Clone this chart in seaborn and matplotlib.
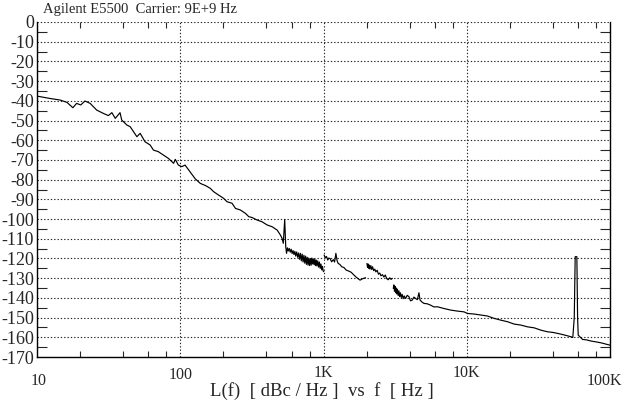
#!/usr/bin/env python3
"""
Phase noise plot (Agilent E5500, 9 GHz carrier)
Generates out.png
"""

import pandas as pd
import matplotlib as mpl
import matplotlib.pyplot as plt
import matplotlib.ticker as mticker
import matplotlib.transforms as mtransforms
import seaborn as sns

# ---- data: offset frequency [Hz] and L(f) [dBc/Hz] ----
# segment 1: 10 Hz .. 1 kHz
SEG1_FREQ = [10, 12.3, 14.5, 16.2, 17.8, 18.9, 20.2, 21.6, 23.5, 26.1, 29.1, 31.5,
             33.3, 35.2, 38, 39, 42.4, 44.7, 49.8, 52.5, 56.8, 61.6, 65, 70.3, 76.2,
             82.6, 89.9, 92.3, 97, 102.7, 108, 117, 127, 138, 150, 162, 171, 185,
             201, 212, 230, 243, 263, 285, 301, 317, 344, 373, 404, 438, 475, 500,
             514, 524, 536, 545, 552, 560, 568, 577, 586, 595, 604, 613, 622, 631,
             640, 650, 660, 670, 680, 690, 700, 710, 720, 730, 740, 750, 760, 770,
             780, 790, 800, 810, 820, 830, 840, 850, 860, 870, 880, 890, 900, 912,
             924, 936, 948, 960, 972, 984, 995, 1005]
SEG1_LEVEL = [-37.6, -38.8, -39.6, -40.8, -43.5, -41.3, -42.1, -40.1, -41.3, -44.7,
              -46.4, -47.5, -46.0, -48.9, -46.0, -49.7, -52.3, -53.1, -58.2, -56.5,
              -60.8, -62.4, -65.0, -65.8, -67.5, -69.2, -71.7, -69.7, -72.6, -73.4,
              -72.6, -76.0, -79.5, -81.9, -83.0, -84.4, -86.1, -87.8, -89.5, -91.2,
              -92.0, -94.6, -95.4, -97.1, -98.8, -99.2, -100.5, -101.4, -103.0,
              -103.9, -105.6, -108.1, -109.8, -112.3, -100.2, -114.0, -117.4,
              -114.6, -116.2, -114.9, -116.8, -115.3, -117.5, -116.0, -118.0,
              -116.4, -118.8, -116.7, -119.4, -117.2, -120.4, -117.4, -121.2,
              -117.8, -121.8, -118.4, -122.4, -118.8, -123.0, -119.4, -123.4,
              -119.8, -123.6, -120.0, -123.4, -119.8, -122.8, -120.2, -123.2,
              -120.4, -123.6, -120.8, -123.8, -121.2, -124.4, -121.8, -125.0,
              -122.8, -125.8, -124.0, -126.4, -126.7]

# segment 2: 1 kHz .. 2 kHz
SEG2_FREQ = [1010, 1030, 1050, 1070, 1090, 1110, 1140, 1170, 1195, 1220, 1245,
             1265, 1300, 1340, 1390, 1440, 1500, 1560, 1620, 1680, 1740, 1800,
             1860, 1920, 1968]
SEG2_LEVEL = [-118.3, -119.6, -119.0, -120.8, -119.8, -120.0, -121.7, -120.6,
              -121.8, -117.4, -121.2, -122.5, -123.0, -124.2, -124.6, -125.9,
              -126.4, -127.0, -128.2, -129.3, -130.2, -131.0, -130.4, -130.0,
              -129.8]

# segment 3: 2 kHz .. 3 kHz
SEG3_FREQ = [2010, 2030, 2050, 2070, 2090, 2110, 2140, 2170, 2200, 2240, 2280,
             2320, 2370, 2420, 2470, 2520, 2580, 2640, 2700, 2760, 2830, 2900,
             2960, 3023]
SEG3_LEVEL = [-122.5, -124.6, -122.8, -125.0, -123.4, -125.4, -123.6, -125.6,
              -124.2, -126.2, -125.4, -126.8, -126.0, -128.0, -127.4, -128.8,
              -128.2, -129.4, -128.4, -130.2, -130.8, -129.8, -130.6, -130.1]

# segment 4: 3 kHz .. 100 kHz
SEG4_FREQ = [3070, 3100, 3130, 3160, 3190, 3220, 3250, 3280, 3320, 3360, 3400,
             3440, 3490, 3540, 3600, 3660, 3742, 3840, 3949, 4050, 4166, 4280,
             4395, 4520, 4637, 4720, 4850, 5022, 5300, 5596, 5900, 6234, 6940,
             7727, 8605, 9580, 10110, 11250, 12530, 13950, 15530, 17290, 19260,
             21440, 23870, 26570, 29580, 33000, 36640, 40500, 45400, 49000,
             53300, 55000, 56300, 57150, 58700, 59400, 60000, 64400, 68500,
             73600, 79500, 86500, 93000, 100000]
SEG4_LEVEL = [-135.2, -133.4, -136.6, -134.2, -137.4, -135.0, -138.0, -135.6,
              -138.8, -136.4, -139.4, -137.4, -139.8, -138.2, -140.4, -139.0,
              -140.3, -138.7, -139.4, -141.5, -141.1, -139.6, -140.3, -140.9,
              -137.4, -141.1, -142.0, -142.8, -143.0, -143.7, -144.6, -144.5,
              -145.4, -146.2, -146.7, -147.1, -147.9, -148.2, -148.7, -149.2,
              -150.4, -151.3, -152.1, -153.3, -153.8, -154.7, -155.2, -156.4,
              -157.2, -157.6, -158.4, -159.0, -159.7, -160.1, -150.0, -119.1,
              -119.1, -150.0, -158.9, -161.1, -161.3, -161.9, -162.3, -162.8,
              -163.4, -164.0]

SEGMENTS = [(SEG1_FREQ, SEG1_LEVEL), (SEG2_FREQ, SEG2_LEVEL),
            (SEG3_FREQ, SEG3_LEVEL), (SEG4_FREQ, SEG4_LEVEL)]

X_TICKS = [10, 100, 1000, 10000, 100000]
X_TICK_LABELS = ['10', '100', '1K', '10K', '100K']
Y_TICKS = list(range(-170, 1, 10))

TITLE = 'Agilent E5500  Carrier: 9E+9 Hz'
XLABEL = 'L(f)  [ dBc / Hz ]  vs  f  [ Hz ]'


def build_frame():
    rows = []
    for i, (freq, level) in enumerate(SEGMENTS):
        for f, v in zip(freq, level):
            rows.append({'freq': f, 'level': v, 'segment': i})
    return pd.DataFrame(rows)


def main():
    sns.set_style('white')
    mpl.rcParams['font.family'] = ['Liberation Serif', 'DejaVu Serif']
    mpl.rcParams['font.size'] = 11
    mpl.rcParams['axes.unicode_minus'] = False

    df = build_frame()

    fig = plt.figure(figsize=(6.26, 4.0), dpi=100)
    ax = fig.add_axes([37 / 626, 1 - 357 / 400, 573 / 626, 335 / 400])

    sns.lineplot(data=df, x='freq', y='level', units='segment', estimator=None,
                 sort=False, color='black', linewidth=0.85, ax=ax)

    ax.set_xscale('log')
    ax.set_xlim(10, 100000)
    ax.set_ylim(-170, 0)

    # grid: dotted lines at decades and every 10 dB
    ax.xaxis.set_major_locator(mticker.FixedLocator(X_TICKS))
    ax.xaxis.set_major_formatter(mticker.FixedFormatter(X_TICK_LABELS))
    ax.yaxis.set_major_locator(mticker.FixedLocator(Y_TICKS))
    ax.grid(True, which='major', linestyle=(0, (1.2, 1.8)), color='#222222', linewidth=0.8)

    x_minor = [m * d for d in [10, 100, 1000, 10000] for m in (2, 4, 6, 8)]
    ax.xaxis.set_minor_locator(mticker.FixedLocator(x_minor))
    ax.xaxis.set_minor_formatter(mticker.NullFormatter())
    ax.yaxis.set_minor_locator(mticker.FixedLocator(list(range(-165, 0, 10))))

    ax.tick_params(axis='x', which='major', length=0, pad=6, labelsize=11.5)
    ax.tick_params(axis='x', which='minor', direction='in', length=4, width=0.8,
                   top=True, bottom=True)
    ax.tick_params(axis='y', which='major', direction='out', length=2, width=0.8,
                   pad=0, labelsize=13)
    ax.tick_params(axis='y', which='minor', direction='in', length=7, width=0.8,
                   left=True, right=True)

    # the outermost labels sit a little lower in the original
    for lbl in ax.get_xticklabels():
        if lbl.get_text() == '10':
            off = mtransforms.ScaledTranslation(2 / 100, -8 / 100, fig.dpi_scale_trans)
            lbl.set_transform(lbl.get_transform() + off)
        elif lbl.get_text() == '100K':
            off = mtransforms.ScaledTranslation(-6 / 100, -8 / 100, fig.dpi_scale_trans)
            lbl.set_transform(lbl.get_transform() + off)
        elif lbl.get_text() == '100':
            off = mtransforms.ScaledTranslation(0, -2 / 100, fig.dpi_scale_trans)
            lbl.set_transform(lbl.get_transform() + off)

    for side in ['left', 'right', 'bottom']:
        ax.spines[side].set_color('black')
        ax.spines[side].set_linewidth(1.0)
    ax.spines['top'].set_visible(False)

    ax.set_xlabel('')
    ax.set_ylabel('')
    fig.text(322 / 626, 1 - 391 / 400, XLABEL, fontsize=13.5, ha='center', va='center')
    fig.text(43 / 626, 1 - 9 / 400, TITLE, fontsize=10.5, ha='left', va='center')

    fig.savefig('out.png', dpi=100, facecolor='white')
    plt.close(fig)


if __name__ == '__main__':
    main()
